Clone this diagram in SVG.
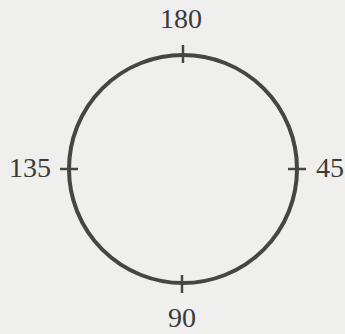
<svg xmlns="http://www.w3.org/2000/svg" width="345" height="334" viewBox="0 0 345 334">
<style>
.lbl{font-family:"Liberation Serif","Times New Roman",serif;font-size:28px;fill:#3a3a3a}
.ln{stroke:#454545;stroke-width:4;fill:none;stroke-linecap:round}
.tk{stroke:#454545;stroke-width:2.5;fill:none}
</style>
<rect width="345" height="334" fill="#efefed"/>
<g id="circle">
<circle class="ln" cx="183" cy="169" r="114"/>
</g>
<g id="ticks">
<line class="tk" x1="183" y1="45" x2="183" y2="63"/>
<line class="tk" x1="60" y1="169" x2="78" y2="169"/>
<line class="tk" x1="288" y1="169" x2="306" y2="169"/>
<line class="tk" x1="182" y1="275" x2="182" y2="293"/>
</g>
<g id="labels">
<text class="lbl" x="181" y="28" text-anchor="middle">180</text>
<text class="lbl" x="30" y="177" text-anchor="middle">135</text>
<text class="lbl" x="330" y="177" text-anchor="middle">45</text>
<text class="lbl" x="182" y="327" text-anchor="middle">90</text>
</g>
</svg>
